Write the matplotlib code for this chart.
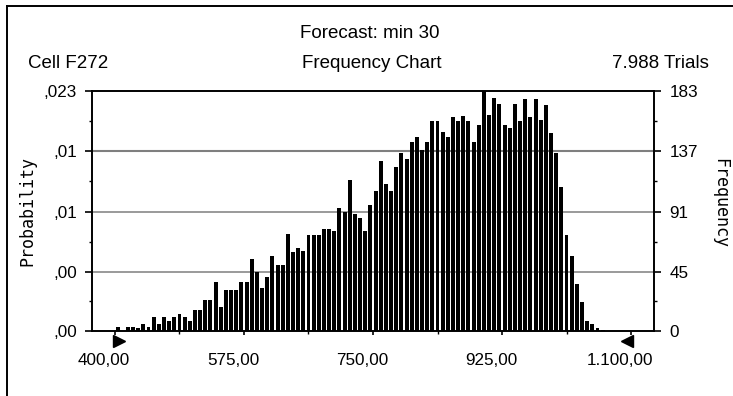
import matplotlib

matplotlib.use("Agg")
import matplotlib.pyplot as plt  # noqa: E402
import matplotlib.transforms as mtransforms  # noqa: E402
from matplotlib.lines import Line2D  # noqa: E402
import numpy as np  # noqa: E402

# Crystal Ball forecast "min 30": 100 bins of width 7 starting at 400
BIN_START = 400.0
BIN_WIDTH = 7.0
FREQ = [
    3, 0, 3, 3, 2, 5, 3, 11, 5, 11,
    8, 11, 13, 11, 8, 16, 16, 24, 24, 37,
    18, 31, 31, 31, 37, 37, 55, 45, 33, 41,
    57, 50, 50, 74, 60, 63, 61, 73, 73, 73,
    78, 78, 76, 94, 91, 115, 89, 86, 76, 96,
    107, 130, 112, 107, 125, 136, 131, 144, 148, 138,
    144, 160, 160, 152, 148, 163, 160, 164, 160, 144,
    157, 183, 165, 178, 173, 157, 155, 173, 160, 177,
    163, 177, 161, 172, 151, 136, 110, 73, 57, 36,
    22, 8, 5, 2, 1, 0, 0, 0, 0, 0,
]

X_TICKS = [400, 575, 750, 925, 1100]
X_LABELS = ["400,00", "575,00", "750,00", "925,00", "1.100,00"]
Y_TICKS = [0, 45, 91, 137, 183]
PROB_LABELS = [",00", ",00", ",01", ",01", ",023"]
FREQ_LABELS = ["0", "45", "91", "137", "183"]
CERTAINTY = (400, 1100)

SANS = "Liberation Sans"
MONO = "DejaVu Sans Mono"

fig = plt.figure(figsize=(7.33, 3.96), dpi=100)
ax = fig.add_axes([92 / 733, 1 - 331 / 396, 562 / 733, 240 / 396])

centers = BIN_START + BIN_WIDTH * (np.arange(len(FREQ)) + 0.5)
ax.bar(centers, FREQ, width=BIN_WIDTH * 0.76, color="black", linewidth=0, zorder=3)

for level in Y_TICKS[1:-1]:
    ax.axhline(level, color="#7f7f7f", lw=1.5 if level == 137 else 1.1, zorder=1)

ax.set_xlim(368.8, 1131.2)
ax.set_ylim(0, 183)

# x axis
ax.set_xticks(X_TICKS, X_LABELS, fontfamily=SANS, fontsize=12.3)
minor_x = [(a + b) / 2 for a, b in zip(X_TICKS[:-1], X_TICKS[1:])]
ax.set_xticks(minor_x, minor=True)
ax.tick_params(axis="x", which="major", length=3, width=1.2, pad=13)
ax.tick_params(axis="x", which="minor", length=2, width=1)
shift = mtransforms.ScaledTranslation(-11 / 100, 0, fig.dpi_scale_trans)
for lab in ax.xaxis.get_majorticklabels():
    lab.set_transform(lab.get_transform() + shift)

# left axis: probability
ax.set_yticks(Y_TICKS, PROB_LABELS, fontfamily=SANS, fontsize=12.3)
minor_y = [(a + b) / 2 for a, b in zip(Y_TICKS[:-1], Y_TICKS[1:])]
ax.set_yticks(minor_y, minor=True)
ax.tick_params(axis="y", which="major", length=5, width=1.2, pad=6)
ax.tick_params(axis="y", which="minor", length=2, width=1)

# right axis: frequency
ax2 = ax.twinx()
ax2.set_ylim(0, 183)
ax2.set_yticks(Y_TICKS, FREQ_LABELS, fontfamily=SANS, fontsize=12.3)
ax2.set_yticks(minor_y, minor=True)
ax2.tick_params(axis="y", which="major", length=5, width=1.2, pad=6)
ax2.tick_params(axis="y", which="minor", length=2, width=1)

for a in (ax, ax2):
    for sp in a.spines.values():
        sp.set_linewidth(1.2)

# certainty range markers
xt = ax.get_xaxis_transform()
nudge = 4 / 100
ax.plot(CERTAINTY[0], -0.04, marker=">", ms=8, color="black", clip_on=False,
        transform=xt + mtransforms.ScaledTranslation(nudge, 0, fig.dpi_scale_trans))
ax.plot(CERTAINTY[1], -0.04, marker="<", ms=8, color="black", clip_on=False,
        transform=xt + mtransforms.ScaledTranslation(-nudge, 0, fig.dpi_scale_trans))

# header texts
fig.text(370 / 733, 1 - 33 / 396, "Forecast: min 30", ha="center", va="center",
         fontfamily=SANS, fontsize=13.5)
fig.text(28 / 733, 1 - 63 / 396, "Cell F272", ha="left", va="center",
         fontfamily=SANS, fontsize=13.5)
fig.text(372 / 733, 1 - 63 / 396, "Frequency Chart", ha="center", va="center",
         fontfamily=SANS, fontsize=13.5)
fig.text(709 / 733, 1 - 63 / 396, "7.988 Trials", ha="right", va="center",
         fontfamily=SANS, fontsize=13.5)

fig.text(27 / 733, 1 - 211 / 396, "Probability", rotation=90, ha="center",
         va="center", fontfamily=MONO, fontsize=12)
fig.text(720 / 733, 1 - 203 / 396, "Frequency", rotation=270, ha="center",
         va="center", fontfamily=MONO, fontsize=12)

# outer frame (cropped at right and bottom)
fig.add_artist(Line2D([7 / 733, 7 / 733], [0, 1 - 6 / 396], color="black", lw=1.4))
fig.add_artist(Line2D([7 / 733, 1], [1 - 6 / 396, 1 - 6 / 396], color="black", lw=1.4))

fig.savefig("out.png", dpi=100)
